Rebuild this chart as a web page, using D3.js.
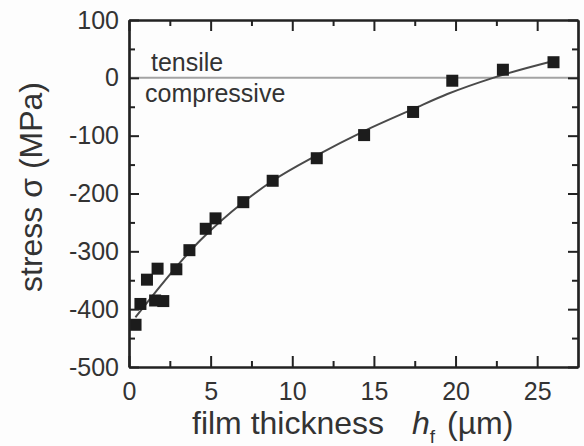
<!DOCTYPE html>
<html>
<head>
<meta charset="utf-8">
<script src="https://cdn.jsdelivr.net/npm/d3@7"></script>
<style>
  html, body { margin: 0; padding: 0; background: #fdfdfd; }
  svg { display: block; font-family: "Liberation Sans", Arial, sans-serif; }
</style>
</head>
<body>
<svg id="chart"></svg>
<script>
// measured points: film thickness (um) vs stress (MPa)
const thickness = [0.4, 0.7, 1.1, 1.6, 1.75, 2.1, 2.9, 3.7, 4.7, 5.3, 7.0, 8.8, 11.5, 14.4, 17.4, 19.8, 22.9, 26.0];
const stress = [-427, -391, -349, -385, -330, -386, -331, -298, -261, -243, -215, -178, -139, -99, -59, -5, 14, 27];

// fitted curve
const fitThickness = [0.4, 4.4, 7.0, 8.8, 11.5, 14.4, 17.4, 19.5, 22.3, 26.0];
const fitStress = [-414, -280, -215, -178, -134, -92, -54, -28, 0, 29];

const xMajorTicks = [0, 5, 10, 15, 20, 25];
const xMinorTicks = [2.5, 7.5, 12.5, 17.5, 22.5];
const yMajorTicks = [-500, -400, -300, -200, -100, 0, 100];
const yMinorTicks = [-450, -350, -250, -150, -50, 50];

class StressPlot {
  margin = { top: 20, right: 6, bottom: 79, left: 129 }

  constructor(svg, width = 584, height = 446) {
    this.svg = d3.select(svg);
    this.width = width;
    this.height = height;
  }

  initialize() {
    this.svg.attr("width", this.width).attr("height", this.height);
    this.innerW = this.width - this.margin.left - this.margin.right;
    this.innerH = this.height - this.margin.top - this.margin.bottom;

    this.xScale = d3.scaleLinear().domain([0, 27.5]).range([0, this.innerW]);
    this.yScale = d3.scaleLinear().domain([-500, 100]).range([this.innerH, 0]);

    this.container = this.svg.append("g")
      .attr("transform", `translate(${this.margin.left}, ${this.margin.top})`);
  }

  // one axis group; labels only when asked
  addAxis(axis, values, size, transform, labels, padding = 0) {
    const g = this.container.append("g").attr("transform", transform || null);
    axis.tickValues(values).tickSizeInner(-size).tickSizeOuter(0).tickPadding(padding);
    axis.tickFormat(labels ? (d => String(d)) : "");
    g.call(axis);
    return g;
  }

  drawAxes() {
    const x = this.xScale, y = this.yScale, w = this.innerW, h = this.innerH;
    const axisColor = "#222";

    this.addAxis(d3.axisBottom(x), xMajorTicks, 11, `translate(0, ${h})`, true, 15);
    this.addAxis(d3.axisBottom(x), xMinorTicks, 6, `translate(0, ${h})`, false);
    this.addAxis(d3.axisTop(x), xMajorTicks, 11, null, false);
    this.addAxis(d3.axisTop(x), xMinorTicks, 6, null, false);
    this.addAxis(d3.axisLeft(y), yMajorTicks, 10, null, true, 10);
    this.addAxis(d3.axisLeft(y), yMinorTicks, 6, null, false);
    this.addAxis(d3.axisRight(y), yMajorTicks, 10, `translate(${w}, 0)`, false);
    this.addAxis(d3.axisRight(y), yMinorTicks, 6, `translate(${w}, 0)`, false);

    this.container.selectAll(".domain").attr("stroke", axisColor).attr("stroke-width", 2.2);
    this.container.selectAll(".tick line").attr("stroke", axisColor).attr("stroke-width", 2);
    this.container.selectAll(".tick text")
      .attr("fill", "#333").attr("font-size", 25).attr("font-family", "Liberation Sans, Arial, sans-serif");
  }

  drawData() {
    const x = this.xScale, y = this.yScale;

    // zero line
    this.container.append("line")
      .attr("x1", 0).attr("x2", this.innerW)
      .attr("y1", y(0)).attr("y2", y(0))
      .attr("stroke", "#a3a3a3").attr("stroke-width", 2);

    const fit = fitThickness.map((d, i) => ({ h: d, s: fitStress[i] }));
    const line = d3.line().x(d => x(d.h)).y(d => y(d.s)).curve(d3.curveMonotoneX);
    this.container.append("path")
      .datum(fit)
      .attr("d", line)
      .attr("fill", "none")
      .attr("stroke", "#4a4a4a")
      .attr("stroke-width", 2);

    const pts = thickness.map((d, i) => ({ h: d, s: stress[i] }));
    const size = 12;
    this.container.selectAll("rect.pt")
      .data(pts)
      .join("rect")
      .attr("class", "pt")
      .attr("x", d => x(d.h) - size / 2)
      .attr("y", d => y(d.s) - size / 2)
      .attr("width", size)
      .attr("height", size)
      .attr("fill", "#1c1c1c");
  }

  drawLabels() {
    const g = this.container;
    g.append("text").attr("x", 22).attr("y", 51)
      .attr("font-size", 25).attr("fill", "#333").text("tensile");
    g.append("text").attr("x", 16).attr("y", 82)
      .attr("font-size", 25).attr("fill", "#333").text("compressive");

    // x title
    const xt = this.svg.append("text")
      .attr("x", 192).attr("y", 434)
      .attr("font-size", 32).attr("fill", "#333");
    xt.append("tspan").text("film thickness");
    xt.append("tspan").attr("x", 412).attr("font-style", "italic").text("h");
    xt.append("tspan").attr("dy", 9).attr("font-size", 19).text("f");
    xt.append("tspan").attr("x", 447).attr("dy", -9).text("(µm)");

    // y title
    this.svg.append("text")
      .attr("transform", "translate(42, 187) rotate(-90)")
      .attr("text-anchor", "middle")
      .attr("font-size", 32).attr("fill", "#333")
      .text("stress σ (MPa)");
  }
}

const plot = new StressPlot("#chart");
plot.initialize();
plot.drawData();
plot.drawAxes();
plot.drawLabels();
</script>
</body>
</html>
